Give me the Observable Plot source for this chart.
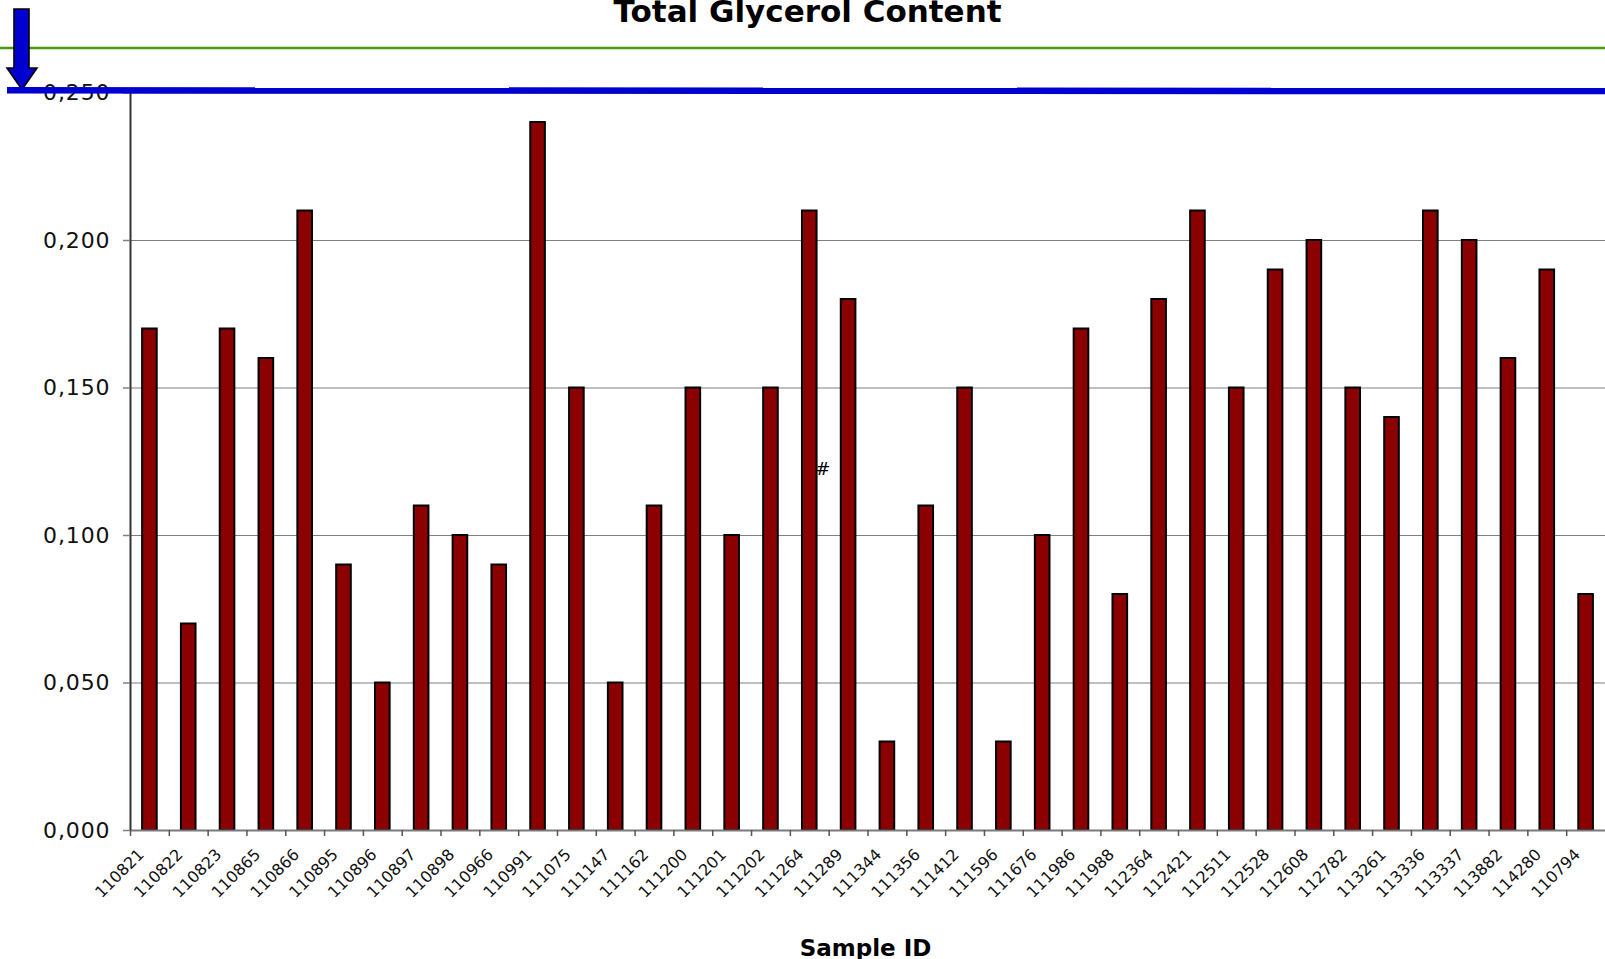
<!DOCTYPE html>
<html><head><meta charset="utf-8">
<script src="https://cdn.jsdelivr.net/npm/d3@7"></script>
<script src="https://cdn.jsdelivr.net/npm/@observablehq/plot@0.6"></script>
<style>
html,body{margin:0;padding:0;background:#fff;overflow:hidden}
#wrap{width:1605px;height:959px}
g[aria-label="y-axis tick label"] text{letter-spacing:0.9px}
</style></head><body><div id="wrap"></div>
<script>
const sampleIds = ["110821","110822","110823","110865","110866","110895","110896","110897","110898","110966","110991","111075","111147","111162","111200","111201","111202","111264","111289","111344","111356","111412","111596","111676","111986","111988","112364","112421","112511","112528","112608","112782","113261","113336","113337","113882","114280","110794"];
const glycerol = [0.17,0.07,0.17,0.16,0.21,0.09,0.05,0.11,0.10,0.09,0.24,0.15,0.05,0.11,0.15,0.10,0.15,0.21,0.18,0.03,0.11,0.15,0.03,0.10,0.17,0.08,0.18,0.21,0.15,0.19,0.20,0.15,0.14,0.21,0.20,0.16,0.19,0.08];
const yTicks = [0, 0.05, 0.10, 0.15, 0.20, 0.25];
const chartTitle = "Total Glycerol Content";
const xTitle = "Sample ID";
const noteMarks = [{id: "111264", v: 0.1225, text: "#"}];

const data = sampleIds.map((id, i) => ({id, v: glycerol[i]}));
const fmt = d => d.toFixed(3).replace(".", ",");
const W = 1605, H = 959;
const mL = 130, mR = 0, mT = 92.5, mB = 129;
const step = (W - mL - mR) / sampleIds.length;

const plot = Plot.plot({
  width: W, height: H,
  marginLeft: mL, marginRight: mR, marginTop: mT, marginBottom: mB,
  style: {fontFamily: "DejaVu Sans", background: "white", overflow: "visible", color: "#111"},
  x: {type: "band", domain: sampleIds, padding: 0, axis: null},
  y: {domain: [0, 0.25], axis: null},
  marks: [
    Plot.ruleY(yTicks.slice(1), {stroke: "#808080", strokeWidth: 1.2}),
    Plot.barY(data, {x: "id", y: "v", fill: "#8b0000", stroke: "#000", strokeWidth: 2, insetLeft: 12.1, insetRight: 12.1}),
    Plot.ruleY([0], {stroke: "#7a7a7a", strokeWidth: 2}),
    Plot.ruleX([sampleIds[0]], {dx: -step / 2, y1: 0, y2: 0.25, stroke: "#333", strokeWidth: 2}),
    Plot.axisX({tickSize: 6, tickFormat: () => "", dx: -step / 2, stroke: "#555", strokeWidth: 1.5, label: null}),
    Plot.axisY({ticks: yTicks, tickFormat: fmt, tickSize: 7, tickPadding: 13, fontSize: 22, stroke: "#808080", strokeWidth: 1.5, fill: "#111", label: null}),
    Plot.text(data, {x: "id", frameAnchor: "bottom", text: "id", rotate: -45, textAnchor: "end", lineAnchor: "bottom", dy: 25, dx: -5, fontSize: 16, fill: "#111"}),
    Plot.text([chartTitle], {frameAnchor: "top", text: d => d, dy: 21 - mT, dx: 807 - (mL + W - mR) / 2, lineAnchor: "bottom", fontSize: 31, fontWeight: "bold", fill: "#000"}),
    Plot.text([xTitle], {frameAnchor: "bottom", text: d => d, dy: 955 - (H - mB), dx: 865 - (mL + W - mR) / 2, lineAnchor: "bottom", fontSize: 23, fontWeight: "bold", fill: "#000"}),
    Plot.text(noteMarks, {x: "id", y: "v", text: "text", dx: 13, fontSize: 18, fontStyle: "italic", fill: "#000"})
  ]
});

document.getElementById("wrap").appendChild(plot);

// decorations: header rule, blue marker line and arrow
const svg = d3.select(plot);
const yTop = plot.scale("y").apply(0.25);
svg.append("line").attr("x1", 0).attr("x2", W).attr("y1", 48).attr("y2", 48)
  .attr("stroke", "#4a9a0c").attr("stroke-width", 2.4);
svg.append("path")
  .attr("d", `M14,9 H29 V68 H37 L22,${yTop - 3} L7,68 H14 Z`)
  .attr("fill", "#0000d0").attr("stroke", "#000").attr("stroke-width", 1.6).attr("stroke-linejoin", "miter");
svg.append("line").attr("x1", 7).attr("x2", W).attr("y1", yTop - 2.2).attr("y2", yTop - 1.4)
  .attr("stroke", "#0000d0").attr("stroke-width", 6.5);
</script>
</body></html>
